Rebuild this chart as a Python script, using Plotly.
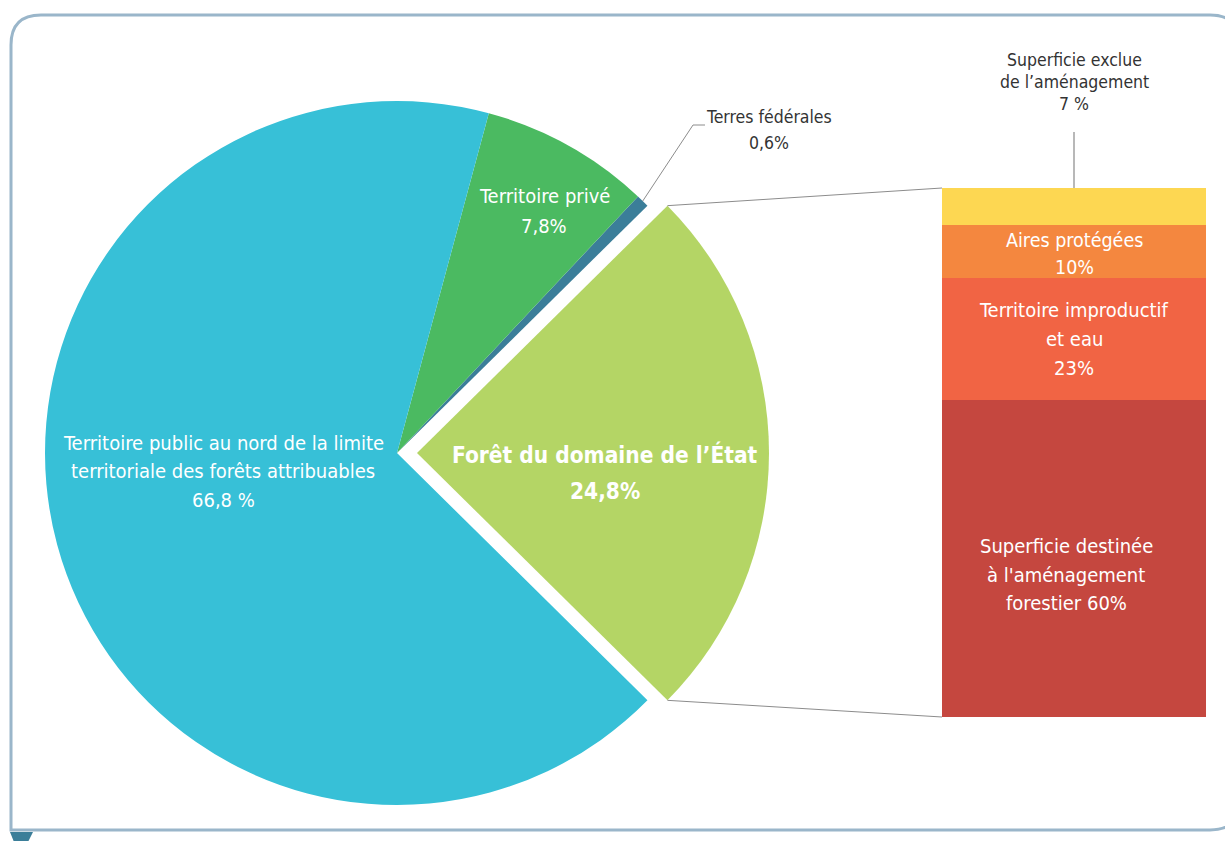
import math
import plotly.graph_objects as go

W, H = 1225, 841

# ---- data ----
pie_labels = ["Forêt du domaine de l’État", "Terres fédérales", "Territoire privé",
              "Territoire public au nord de la limite territoriale des forêts attribuables"]
pie_values = [24.8, 0.6, 7.8, 66.8]
pie_texts = ["<b>Forêt du domaine de l’État<br>24,8%</b>", "Terres fédérales<br>0,6%",
             "Territoire privé<br>7,8%",
             "Territoire public au nord de la limite<br>territoriale des forêts attribuables<br>66,8 %"]
pie_colors = ["#B4D565", "#3B7E99", "#4BBA61", "#37C0D7"]

bar_labels = ["Superficie destinée à l'aménagement forestier", "Territoire improductif et eau",
              "Aires protégées", "Superficie exclue de l’aménagement"]
bar_values = [60, 23, 10, 7]
bar_texts = ["Superficie destinée<br>à l'aménagement<br>forestier 60%",
             "Territoire improductif<br>et eau<br>23%",
             "Aires protégées<br>10%",
             "Superficie exclue<br>de l’aménagement<br>7 %"]
bar_colors = ["#C5473F", "#F16444", "#F4873F", "#FDD752"]

FONT = "DejaVu Sans Condensed, Liberation Sans Narrow, Roboto, sans-serif"

def px(x):
    return x / W

def py(y):
    return 1 - y / H

# pie geometry (pixels)
cx, cy, R = 397, 453, 352
pull_px = 20
pull = pull_px / R
half = R * (1 + pull)
total = sum(pie_values)
first_span = pie_values[0] / total * 360
rotation = 90 - first_span / 2

# bar geometry (pixels)
bx0, bx1, by0, by1 = 942, 1206, 188, 717

fig = go.Figure()
fig.add_trace(go.Pie(
    labels=pie_labels, values=pie_values, sort=False, direction="counterclockwise",
    rotation=rotation, pull=[pull, 0, 0, 0],
    marker=dict(colors=pie_colors, line=dict(width=0)),
    textinfo="none", hoverinfo="label+percent", showlegend=False,
    domain=dict(x=[px(cx - half), px(cx + half)], y=[py(cy + half), py(cy - half)]),
))

for lab, v, c in zip(bar_labels, bar_values, bar_colors):
    fig.add_trace(go.Bar(x=["Forêt du domaine de l’État"], y=[v], name=lab,
                         marker=dict(color=c, line=dict(width=0)),
                         showlegend=False, xaxis="x", yaxis="y"))

fig.update_layout(
    width=W, height=H, margin=dict(l=0, r=0, t=0, b=0),
    paper_bgcolor="white", plot_bgcolor="rgba(0,0,0,0)",
    barmode="stack", bargap=0,
    xaxis=dict(domain=[px(bx0), px(bx1)], visible=False, fixedrange=True),
    yaxis=dict(domain=[py(by1), py(by0)], range=[0, sum(bar_values)], visible=False, fixedrange=True),
    font=dict(family=FONT),
)

shapes = []
# frame
r = 30
x0f, y0f, x1f, y1f = 11, 15, 1240, 830
path = (f"M {px(x0f+r)},{py(y0f)} L {px(x1f-r)},{py(y0f)} Q {px(x1f)},{py(y0f)} {px(x1f)},{py(y0f+r)} "
        f"L {px(x1f)},{py(y1f-r)} Q {px(x1f)},{py(y1f)} {px(x1f-r)},{py(y1f)} "
        f"L {px(x0f)},{py(y1f)} L {px(x0f)},{py(y0f+r)} Q {px(x0f)},{py(y0f)} {px(x0f+r)},{py(y0f)} Z")
shapes.append(dict(type="path", xref="paper", yref="paper", path=path,
                   line=dict(color="#9AB6CA", width=3), layer="below"))
# small tab
shapes.append(dict(type="path", xref="paper", yref="paper",
                   path=f"M {px(10)},{py(832)} L {px(33)},{py(832)} L {px(28)},{py(842)} L {px(14)},{py(842)} Z",
                   fillcolor="#3B7E99", line=dict(width=0)))

# connectors from pulled slice to bar
a = math.radians(first_span / 2)
ax_, ay_ = cx + pull_px, cy
top = (ax_ + R * math.cos(a), ay_ - R * math.sin(a))
bot = (ax_ + R * math.cos(a), ay_ + R * math.sin(a))
for (sx, sy), ey in [(top, by0), (bot, by1)]:
    shapes.append(dict(type="line", xref="paper", yref="paper",
                       x0=px(sx), y0=py(sy), x1=px(bx0), y1=py(ey),
                       line=dict(color="#8C8C8C", width=1)))
# leader for Terres fédérales
mid = math.radians(first_span / 2 + pie_values[1] / total * 360 / 2)
lx, ly = cx + R * math.cos(mid), cy - R * math.sin(mid)
shapes.append(dict(type="path", xref="paper", yref="paper",
                   path=f"M {px(lx)},{py(ly)} L {px(693)},{py(125)} L {px(705)},{py(125)}",
                   line=dict(color="#8C8C8C", width=1)))
# leader for Superficie exclue
shapes.append(dict(type="line", xref="paper", yref="paper",
                   x0=px(1074), y0=py(by0), x1=px(1074), y1=py(132),
                   line=dict(color="#A0A0A0", width=1.5)))
fig.update_layout(shapes=shapes)

ann = []
def add(text, x, y_first, spacing, size, color):
    bold = text.startswith("<b>")
    body = text.replace("<b>", "").replace("</b>", "")
    for i, line in enumerate(body.split("<br>")):
        t = f"<b>{line}</b>" if bold else line
        ann.append(dict(text=t, x=px(x), y=py(y_first + i * spacing), xref="paper", yref="paper",
                        showarrow=False, xanchor="center", yanchor="middle", align="center",
                        font=dict(family=FONT, size=size, color=color)))

add(pie_texts[3], 223, 443, 28.5, 20, "white")
add(pie_texts[2], 544, 196, 30, 20, "white")
add(pie_texts[0], 605, 454, 37, 22.5, "white")
add(pie_texts[1], 769, 117, 26, 17.5, "#333333")
add(bar_texts[3], 1074, 60, 22, 17.5, "#333333")
add(bar_texts[2], 1074, 240, 27, 19.5, "white")
add(bar_texts[1], 1074, 310, 29, 20, "white")
add(bar_texts[0], 1066, 546, 28.5, 20, "white")
fig.update_layout(annotations=ann)

fig.write_html("out.html", config={"displayModeBar": False},
               post_script="document.body.style.margin='0';")
